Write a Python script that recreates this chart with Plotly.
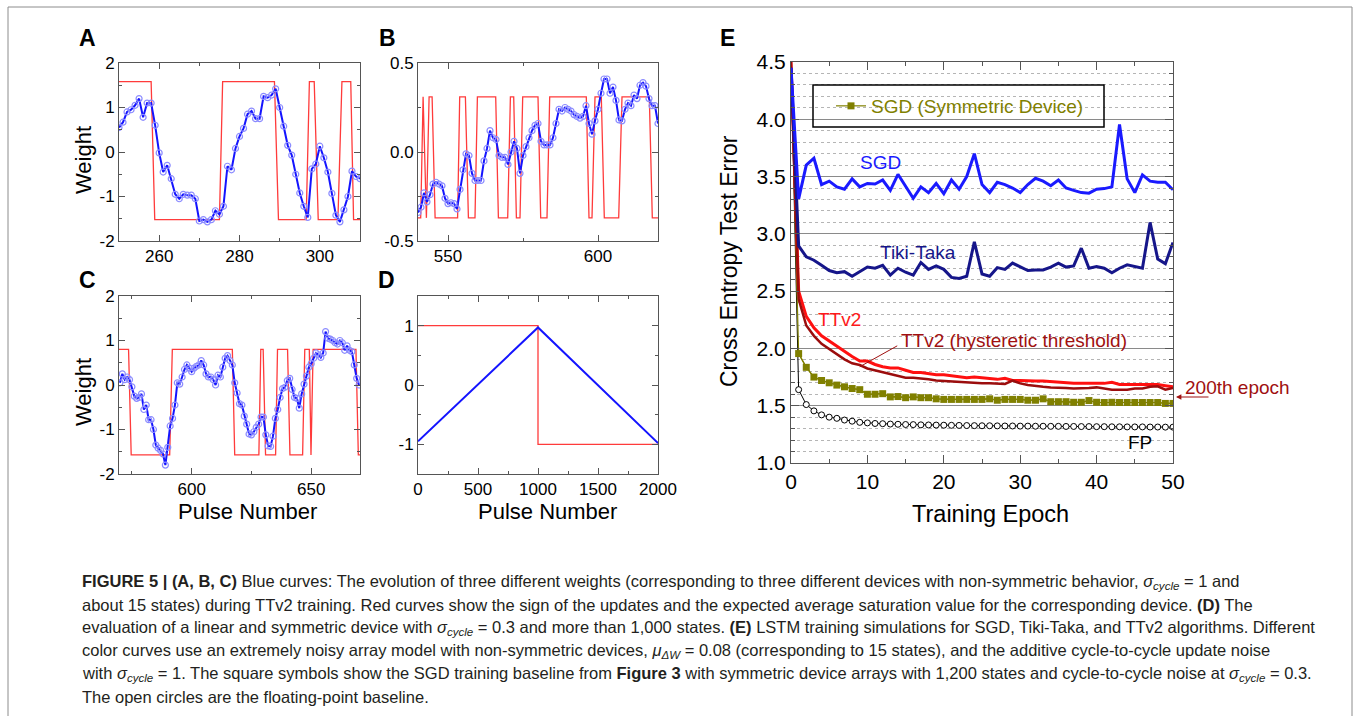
import plotly.graph_objects as go

W, H = 1354, 716
FONT = "Liberation Sans, Arial, sans-serif"

# ---------------- Panel A ----------------
a_x0 = 250
a_blue = [0.55, 0.67, 0.9, 0.95, 1.05, 1.2, 0.78, 1.1, 1.1, 0.6, -0.02, -0.45, -0.3, -0.6, -0.95,
          -1.05, -0.95, -0.97, -0.97, -1.05, -1.55, -1.52, -1.57, -1.52, -1.32, -1.4, -1.22, -0.32,
          -0.4, 0.08, 0.35, 0.53, 0.85, 0.92, 0.75, 0.75, 1.25, 1.22, 1.28, 1.42, 1.0, 0.58, 0.15,
          -0.07, -0.5, -0.92, -1.22, -1.47, -0.38, -0.27, 0.13, -0.13, -0.45, -0.93, -1.42, -1.57,
          -1.3, -1.0, -0.43, -0.55, -0.6]
a_red_x = [250, 258.0, 258.9, 275.0, 275.8, 288.7, 289.7, 296.6, 297.4, 298.6, 299.6, 304.5,
           305.5, 307.7, 308.4, 310]
a_red_s = [1, 1, -1, -1, 1, 1, -1, -1, 1, 1, -1, -1, 1, 1, -1, -1]
a_levels = (1.58, -1.52)

# ---------------- Panel B ----------------
b_x0 = 540
b_blue = [-0.34, -0.31, -0.23, -0.28, -0.24, -0.18, -0.17, -0.18, -0.19, -0.26, -0.29, -0.285,
          -0.29, -0.32, -0.21, -0.10, -0.01, -0.02, -0.12, -0.16, -0.16, -0.16, -0.05, 0.02, 0.12,
          0.08, 0.07, -0.02, -0.03, -0.03, -0.07, 0.00, 0.06, 0.02, -0.12, -0.02, 0.03, 0.08, 0.12,
          0.15, 0.16, 0.06, 0.04, 0.04, 0.04, 0.08, 0.16, 0.24, 0.23, 0.25, 0.24, 0.23, 0.21, 0.20,
          0.19, 0.20, 0.26, 0.16, 0.10, 0.175, 0.24, 0.33, 0.41, 0.41, 0.33, 0.365, 0.29, 0.18,
          0.175, 0.24, 0.275, 0.26, 0.32, 0.30, 0.375, 0.39, 0.37, 0.30, 0.26, 0.26, 0.16]
b_red_x = [540, 540.9, 541.7, 542.8, 543.7, 544.7, 545.7, 553.2, 553.9, 555.8, 556.8, 559.0,
           559.8, 565.9, 566.8, 569.9, 570.8, 571.9, 572.8, 574.0, 574.9, 580.0, 580.9, 583.0,
           583.9, 596.1, 597.0, 598.0, 599.0, 601.1, 602.1, 606.9, 608.0, 617.1, 618.1, 620]
b_red_s = [-1, -1, 1, -1, 1, 1, -1, -1, 1, 1, -1, -1, 1, 1, -1, -1, 1, 1, -1, -1, 1, 1, -1, -1,
           1, 1, -1, -1, 1, 1, -1, -1, 1, 1, -1, -1]
b_levels = (0.31, -0.37)

# ---------------- Panel C ----------------
c_x0 = 570
c_blue = [0.05, 0.25, 0.12, 0.18, 0.12, -0.04, -0.25, -0.30, -0.28, -0.20, -0.55, -0.45, -0.78,
          -0.78, -1.00, -1.35, -1.42, -1.47, -1.55, -1.80, -1.40, -0.92, -0.75, -0.45, 0.05, 0.02,
          0.18, 0.35, 0.45, 0.38, 0.30, 0.38, 0.42, 0.45, 0.55, 0.45, 0.25, 0.18, 0.18, 0.12, 0.00,
          0.22, 0.18, 0.40, 0.60, 0.66, 0.55, 0.45, 0.05, -0.18, -0.42, -0.45, -0.70, -0.88, -1.10,
          -1.12, -1.05, -0.95, -0.88, -0.72, -0.72, -1.12, -1.37, -1.38, -1.15, -0.75, -0.55,
          -0.28, -0.08, -0.05, 0.10, 0.15, -0.10, -0.28, -0.30, -0.52, -0.20, 0.02, 0.20, 0.40,
          0.48, 0.60, 0.72, 0.68, 0.62, 0.72, 1.20, 1.05, 1.03, 1.00, 0.95, 0.92, 1.00, 0.95, 0.78,
          0.88, 0.78, 0.75, 0.45, 0.15, 0.00]
c_red_x = [569.6, 573.6, 574.7, 590.8, 591.9, 617.0, 618.0, 628.1, 628.9, 629.9, 630.9, 635.1,
           635.9, 640.1, 641.1, 646.4, 647.3, 649.2, 649.9, 650.8, 668.7, 669.7, 670.4]
c_red_s = [1, 1, -1, -1, 1, 1, -1, -1, 1, 1, -1, -1, 1, 1, -1, -1, 1, 1, -1, 1, 1, -1, -1]
c_levels = (0.80, -1.57)

# ---------------- Panel D ----------------
d_blue_x = [0, 1000, 2000]
d_blue_y = [-0.95, 0.97, -0.98]
d_red_x = [0, 1000, 1000, 2000]
d_red_y = [1, 1, -1, -1]

# ---------------- Panel E ----------------
epochs = list(range(0, 51))
e_sgd = [4.45, 3.305, 3.60, 3.66, 3.43, 3.46, 3.41, 3.39, 3.48, 3.41, 3.44, 3.435, 3.47, 3.38,
         3.52, 3.42, 3.31, 3.41, 3.36, 3.44, 3.35, 3.47, 3.39, 3.50, 3.70, 3.43, 3.36, 3.45, 3.43,
         3.40, 3.36, 3.43, 3.485, 3.46, 3.42, 3.47, 3.40, 3.38, 3.36, 3.355, 3.39, 3.395, 3.41,
         3.955, 3.48, 3.36, 3.515, 3.46, 3.45, 3.45, 3.385]
e_tt = [4.45, 2.895, 2.80, 2.77, 2.725, 2.68, 2.66, 2.67, 2.63, 2.67, 2.71, 2.70, 2.725, 2.64,
        2.70, 2.665, 2.64, 2.75, 2.69, 2.72, 2.69, 2.62, 2.61, 2.63, 2.93, 2.65, 2.63, 2.705, 2.69,
        2.745, 2.71, 2.68, 2.685, 2.685, 2.71, 2.745, 2.71, 2.72, 2.875, 2.70, 2.715, 2.70, 2.66,
        2.70, 2.73, 2.715, 2.70, 3.10, 2.78, 2.74, 2.925]
e_ttv2 = [4.5, 2.50, 2.28, 2.18, 2.11, 2.065, 2.015, 1.97, 1.93, 1.89, 1.89, 1.86, 1.84, 1.83,
          1.83, 1.81, 1.79, 1.79, 1.78, 1.77, 1.77, 1.76, 1.75, 1.745, 1.75, 1.745, 1.74, 1.73,
          1.74, 1.72, 1.72, 1.715, 1.715, 1.715, 1.71, 1.70, 1.70, 1.695, 1.695, 1.695, 1.69,
          1.695, 1.705, 1.685, 1.685, 1.685, 1.68, 1.68, 1.685, 1.675, 1.665]
e_ttv2h = [4.5, 2.43, 2.20, 2.11, 2.04, 1.995, 1.95, 1.905, 1.87, 1.855, 1.825, 1.81, 1.795, 1.78,
           1.765, 1.745, 1.745, 1.74, 1.73, 1.72, 1.715, 1.715, 1.71, 1.70, 1.695, 1.695, 1.695,
           1.69, 1.69, 1.72, 1.695, 1.68, 1.67, 1.665, 1.66, 1.66, 1.655, 1.65, 1.65, 1.655, 1.66,
           1.65, 1.64, 1.64, 1.64, 1.65, 1.65, 1.665, 1.67, 1.64, 1.655]
e_sym = [4.5, 1.955, 1.835, 1.75, 1.72, 1.70, 1.68, 1.665, 1.65, 1.64, 1.60, 1.60, 1.605, 1.577,
         1.58, 1.57, 1.577, 1.57, 1.57, 1.56, 1.555, 1.555, 1.555, 1.555, 1.555, 1.555, 1.56,
         1.548, 1.555, 1.555, 1.555, 1.548, 1.548, 1.56, 1.535, 1.535, 1.535, 1.53, 1.53, 1.545,
         1.53, 1.528, 1.53, 1.528, 1.528, 1.528, 1.528, 1.528, 1.528, 1.52, 1.52]
e_fp = [4.5, 1.64, 1.51, 1.455, 1.42, 1.40, 1.39, 1.375, 1.365, 1.355, 1.35, 1.345, 1.343, 1.34,
        1.338, 1.336, 1.335, 1.333, 1.332, 1.331, 1.33, 1.329, 1.328, 1.327, 1.326, 1.325, 1.325,
        1.324, 1.323, 1.323, 1.322, 1.322, 1.321, 1.321, 1.32, 1.32, 1.319, 1.319, 1.318, 1.318,
        1.317, 1.317, 1.316, 1.316, 1.315, 1.315, 1.315, 1.314, 1.314, 1.313, 1.313]

ticks_int2 = ([-2, -1, 0, 1, 2], ["-2", "-1", "0", "1", "2"])
ticks_half = ([-0.5, 0.0, 0.5], ["-0.5", "0.0", "0.5"])
ticks_int1 = ([-1, 0, 1], ["-1", "0", "1"])

caption_lines = [
    "<b>FIGURE 5 | (A, B, C)</b> Blue curves: The evolution of three different weights (corresponding to three different devices with non-symmetric behavior, <i>σ<sub>cycle</sub></i> = 1 and",
    "about 15 states) during TTv2 training. Red curves show the sign of the updates and the expected average saturation value for the corresponding device. <b>(D)</b> The",
    "evaluation of a linear and symmetric device with <i>σ<sub>cycle</sub></i> = 0.3 and more than 1,000 states. <b>(E)</b> LSTM training simulations for SGD, Tiki-Taka, and TTv2 algorithms. Different",
    "color curves use an extremely noisy array model with non-symmetric devices, <i>μ<sub>ΔW</sub></i> = 0.08 (corresponding to 15 states), and the additive cycle-to-cycle update noise",
    "with <i>σ<sub>cycle</sub></i> = 1. The square symbols show the SGD training baseline from <b>Figure 3</b> with symmetric device arrays with 1,200 states and cycle-to-cycle noise at <i>σ<sub>cycle</sub></i> = 0.3.",
    "The open circles are the floating-point baseline.",
]

BLUE = "#1414ff"
RED = "#ff3b3b"
MARK = "#8c8cff"

fig = go.Figure()


def add_weight_panel(n, x0, blue, rx, rs, levels):
    xs = [x0 + i for i in range(len(blue))]
    ry = [levels[0] if s > 0 else levels[1] for s in rs]
    fig.add_trace(go.Scatter(x=rx, y=ry, mode="lines", line=dict(color=RED, width=1.3),
                             xaxis="x%d" % n, yaxis="y%d" % n, showlegend=False))
    fig.add_trace(go.Scatter(x=xs, y=blue, mode="lines+markers",
                             line=dict(color=BLUE, width=2),
                             marker=dict(symbol="circle-open", size=6, color=MARK,
                                         line=dict(width=1.2, color=MARK)),
                             xaxis="x%d" % n, yaxis="y%d" % n, showlegend=False))


add_weight_panel(1, a_x0, a_blue, a_red_x, a_red_s, a_levels)
add_weight_panel(2, b_x0, b_blue, b_red_x, b_red_s, b_levels)
add_weight_panel(3, c_x0, c_blue, c_red_x, c_red_s, c_levels)

fig.add_trace(go.Scatter(x=d_red_x, y=d_red_y, mode="lines", line=dict(color=RED, width=1.3),
                         xaxis="x4", yaxis="y4", showlegend=False))
fig.add_trace(go.Scatter(x=d_blue_x, y=d_blue_y, mode="lines", line=dict(color=BLUE, width=2),
                         xaxis="x4", yaxis="y4", showlegend=False))

# Panel E traces
fig.add_trace(go.Scatter(x=epochs, y=e_fp, mode="lines", line=dict(color="black", width=1),
                         xaxis="x5", yaxis="y5", showlegend=False))
fig.add_trace(go.Scatter(x=epochs[1:], y=e_fp[1:], mode="markers",
                         marker=dict(symbol="circle", size=6, color="white",
                                     line=dict(color="black", width=1)),
                         xaxis="x5", yaxis="y5", showlegend=False))
fig.add_trace(go.Scatter(x=epochs, y=e_sym, mode="lines", line=dict(color="#808000", width=1.2),
                         xaxis="x5", yaxis="y5", showlegend=False))
fig.add_trace(go.Scatter(x=epochs[1:], y=e_sym[1:], mode="lines+markers", name="SGD (Symmetric Device)",
                         line=dict(color="#808000", width=1.2),
                         marker=dict(symbol="square", size=7, color="#808000"),
                         xaxis="x5", yaxis="y5", showlegend=True))
fig.add_trace(go.Scatter(x=epochs, y=e_ttv2, mode="lines", line=dict(color="#ff1010", width=3),
                         xaxis="x5", yaxis="y5", showlegend=False))
fig.add_trace(go.Scatter(x=epochs, y=e_ttv2h, mode="lines", line=dict(color="#9b0d0d", width=2.5),
                         xaxis="x5", yaxis="y5", showlegend=False))
fig.add_trace(go.Scatter(x=epochs, y=e_tt, mode="lines", line=dict(color="#16168a", width=3),
                         xaxis="x5", yaxis="y5", showlegend=False))
fig.add_trace(go.Scatter(x=epochs, y=e_sgd, mode="lines", line=dict(color="#1a1aff", width=3),
                         xaxis="x5", yaxis="y5", showlegend=False))

FC = "#555555"


def frame_axis(**kw):
    d = dict(showline=True, linecolor=FC, linewidth=1, mirror="allticks", ticks="inside",
             ticklen=6, tickcolor=FC, tickwidth=1, showgrid=False, zeroline=False,
             automargin=False, tickfont=dict(size=17, color="black", family=FONT))
    d.update(kw)
    return d


def minor(dt, t0, ln=3, **kw):
    d = dict(tickmode="linear", dtick=dt, tick0=t0, ticks="inside", ticklen=ln, tickcolor=FC,
             showgrid=False)
    d.update(kw)
    return d


def dx(a, b):
    return [a / W, b / W]


def dy(a, b):
    return [1 - b / H, 1 - a / H]


layout = dict(
    width=W, height=H, margin=dict(l=0, r=0, t=0, b=0, pad=0, autoexpand=False),
    paper_bgcolor="white", plot_bgcolor="white",
    font=dict(family=FONT, color="black"),
    showlegend=True,
    legend=dict(x=831 / W, y=1 - 106 / H, xanchor="left", yanchor="middle",
                bgcolor="rgba(0,0,0,0)", borderwidth=0, itemwidth=30,
                font=dict(size=19, color="#808000", family=FONT)),
)

layout["xaxis"] = frame_axis(domain=dx(119, 360), anchor="y", range=[250, 310], tickmode="linear",
                             tick0=260, dtick=20, minor=minor(10, 250))
layout["yaxis"] = frame_axis(domain=dy(63, 241), anchor="x", range=[-2, 2], tickmode="array",
                             tickvals=ticks_int2[0], ticktext=ticks_int2[1], minor=minor(0.5, 0))
layout["xaxis2"] = frame_axis(domain=dx(418, 658), anchor="y2", range=[540, 620], tickmode="linear",
                              tick0=550, dtick=50, minor=minor(25, 550))
layout["yaxis2"] = frame_axis(domain=dy(63, 241), anchor="x2", range=[-0.5, 0.5], tickmode="array",
                              tickvals=ticks_half[0], ticktext=ticks_half[1], minor=minor(0.25, 0))
layout["xaxis3"] = frame_axis(domain=dx(119, 360), anchor="y3", range=[569.6, 670.4], tickmode="linear",
                              tick0=600, dtick=50, minor=minor(25, 575))
layout["yaxis3"] = frame_axis(domain=dy(296, 474), anchor="x3", range=[-2, 2], tickmode="array",
                              tickvals=ticks_int2[0], ticktext=ticks_int2[1], minor=minor(0.5, 0))
layout["xaxis4"] = frame_axis(domain=dx(418, 658), anchor="y4", range=[0, 2000], tickmode="linear",
                              tick0=0, dtick=500, minor=minor(250, 0))
layout["yaxis4"] = frame_axis(domain=dy(296, 474), anchor="x4", range=[-1.5, 1.5], tickmode="array",
                              tickvals=ticks_int1[0], ticktext=ticks_int1[1], minor=minor(0.5, 0))
layout["xaxis5"] = frame_axis(domain=dx(791, 1173), anchor="y5", range=[0, 50], tickmode="linear",
                              tick0=0, dtick=10, ticklen=8, minor=minor(5, 0, 4),
                              tickfont=dict(size=21, color="black", family=FONT))
layout["yaxis5"] = frame_axis(domain=dy(62, 463), anchor="x5", range=[1, 4.5], tickmode="linear",
                              tick0=1, dtick=0.5, ticklen=8, tickformat=".1f",
                              showgrid=True, gridcolor="#8a8a8a", gridwidth=1,
                              minor=minor(0.1, 1, 4, showgrid=True, gridcolor="#b5b5b5",
                                          griddash="dot", gridwidth=1),
                              tickfont=dict(size=21, color="black", family=FONT))

fig.update_layout(**layout)

ann = []
# panel letters
for lab, x, y in [("A", 88, 38), ("B", 387, 38), ("C", 88, 280), ("D", 386, 280), ("E", 727, 38)]:
    ann.append(dict(text="<b>%s</b>" % lab, x=x / W, y=1 - y / H, xref="paper", yref="paper",
                    showarrow=False, xanchor="center", yanchor="middle",
                    font=dict(size=23, color="black", family=FONT)))
# axis titles
for txt, x, y, ang, sz in [("Weight", 83, 160, -90, 22), ("Weight", 83, 392, -90, 22),
                           ("Pulse Number", 248, 511, 0, 22), ("Pulse Number", 547, 511, 0, 22),
                           ("Training Epoch", 990, 514, 0, 23.5),
                           ("Cross Entropy Test Error", 729, 261, -90, 23)]:
    ann.append(dict(text=txt, x=x / W, y=1 - y / H, xref="paper", yref="paper", showarrow=False,
                    xanchor="center", yanchor="middle", textangle=ang,
                    font=dict(size=sz, color="black", family=FONT)))
# panel E labels
for txt, x, y, col, xa in [("SGD", 11.65, 3.62, "#1a1aff", "center"),
                           ("Tiki-Taka", 16.6, 2.84, "#16168a", "center"),
                           ("TTv2", 6.4, 2.25, "#ff1a1a", "center"),
                           ("TTv2 (hysteretic threshold)", 14.1, 2.07, "#a01010", "left"),
                           ("FP", 45.7, 1.18, "black", "center")]:
    ann.append(dict(text=txt, x=x, y=y, xref="x5", yref="y5", showarrow=False, xanchor=xa,
                    yanchor="middle", font=dict(size=19, color=col, family=FONT)))
ann.append(dict(text="200th epoch", x=1183 / W, y=1 - 387 / H, xref="paper", yref="paper",
                showarrow=False, xanchor="left", yanchor="middle",
                font=dict(size=19, color="#a01010", family=FONT)))
ann.append(dict(text="", x=9.0, y=1.84, ax=14.1, ay=2.03, xref="x5", yref="y5", axref="x5",
                ayref="y5", showarrow=True, arrowhead=0, arrowwidth=1, arrowcolor="#a01010"))
ann.append(dict(text="", x=1176 / W, y=1 - 397 / H, ax=34, ay=0, xref="paper", yref="paper",
                axref="pixel", ayref="pixel", showarrow=True, arrowhead=2, arrowsize=0.9,
                arrowwidth=1.2, arrowcolor="#a01010"))
# caption
for i, line in enumerate(caption_lines):
    ann.append(dict(text=line, x=80 / W, y=1 - (582 + 23 * i) / H, xref="paper", yref="paper",
                    showarrow=False, xanchor="left", yanchor="middle",
                    font=dict(size=16.5, color="#231f20",
                              family="Liberation Sans Narrow, Arial Narrow, Liberation Sans, Arial, sans-serif")))
fig.update_layout(annotations=ann)

fig.update_layout(shapes=[
    dict(type="rect", xref="paper", yref="paper", x0=813 / W, x1=1104 / W, y0=1 - 127 / H,
         y1=1 - 85 / H, line=dict(color="black", width=1.5), fillcolor="rgba(0,0,0,0)"),
    dict(type="rect", xref="paper", yref="paper", x0=8 / W, x1=1352 / W, y0=-0.05,
         y1=1 - 7 / H, line=dict(color="#8c8c8c", width=1), fillcolor="rgba(0,0,0,0)"),
])

fig.write_html("out.html", config={"displayModeBar": False},
               post_script="document.body.style.margin='0';")
